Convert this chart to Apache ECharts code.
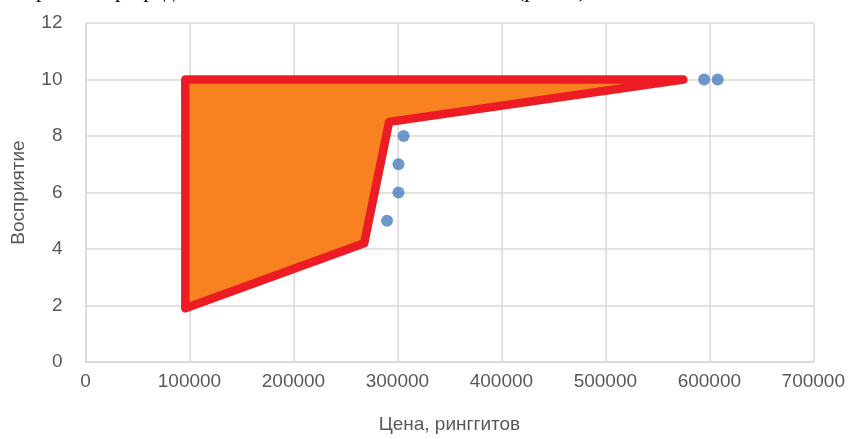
<!DOCTYPE html>
<html>
<head>
<meta charset="utf-8">
<script src="https://cdn.jsdelivr.net/npm/echarts@6/dist/echarts.min.js"></script>
<style>
html,body{margin:0;padding:0;background:#fff;}
#chart{width:848px;height:439px;}
</style>
</head>
<body>
<div id="chart"></div>
<script>
// Polygon (price, perception) vertices
var zonePrice = [96000, 575000, 292000, 268000, 96000];
var zonePerception = [10, 10, 8.5, 4.2, 1.9];
// Scatter points
var pointPrice = [290000, 301000, 301000, 306000, 595000, 608000];
var pointPerception = [5, 6, 7, 8, 10, 10];
// Axis ticks
var xTicks = [0, 100000, 200000, 300000, 400000, 500000, 600000, 700000];
var yTicks = [0, 2, 4, 6, 8, 10, 12];
var xName = 'Цена, ринггитов';
var yName = 'Восприятие';

var zoneData = zonePrice.map(function (p, i) { return [p, zonePerception[i]]; });
var pointData = pointPrice.map(function (p, i) { return [p, pointPerception[i]]; });

var chart = echarts.init(document.getElementById('chart'), null, {renderer: 'canvas'});
var labelStyle = {color: '#595959', fontSize: 19, fontFamily: 'Liberation Sans'};

chart.setOption({
  animation: false,
  backgroundColor: '#ffffff',
  grid: {left: 85.5, right: 32.5, top: 23, bottom: 77},
  graphic: [
    {type: 'text', left: 36, top: -20, style: {text: 'р', font: '22px "Liberation Serif"', fill: '#000'}},
    {type: 'text', left: 115, top: -20, style: {text: 'р пред', font: '22px "Liberation Serif"', fill: '#000'}},
    {type: 'text', left: 517, top: -20, style: {text: '(рис. 3)', font: '22px "Liberation Serif"', fill: '#000'}}
  ],
  xAxis: {
    type: 'value', min: xTicks[0], max: xTicks[xTicks.length - 1], interval: 100000,
    name: xName, nameLocation: 'middle', nameGap: 53,
    nameTextStyle: labelStyle,
    axisLine: {show: true, lineStyle: {color: '#D9D9D9', width: 1.5}},
    axisTick: {show: false},
    axisLabel: Object.assign({margin: 10, formatter: function (v) { return String(v); }}, labelStyle),
    splitLine: {show: true, lineStyle: {color: '#D9D9D9', width: 1.5}}
  },
  yAxis: {
    type: 'value', min: yTicks[0], max: yTicks[yTicks.length - 1], interval: 2,
    name: yName, nameLocation: 'middle', nameGap: 57,
    nameTextStyle: labelStyle,
    axisLine: {show: true, lineStyle: {color: '#D9D9D9', width: 1.5}},
    axisTick: {show: false},
    axisLabel: Object.assign({margin: 23}, labelStyle),
    splitLine: {show: true, lineStyle: {color: '#D9D9D9', width: 1.5}}
  },
  series: [
    {
      type: 'custom',
      data: zoneData,
      encode: {x: 0, y: 1},
      z: 2,
      renderItem: function (params, api) {
        if (params.dataIndex !== 0) return null;
        var pts = zoneData.map(function (d) { return api.coord(d); });
        return {
          type: 'polygon',
          shape: {points: pts},
          style: {fill: '#F7821F', stroke: '#ED1C24', lineWidth: 8.5, lineJoin: 'round'}
        };
      }
    },
    {
      type: 'scatter',
      data: pointData,
      symbol: 'circle',
      symbolSize: 12,
      z: 3,
      itemStyle: {color: '#4A7EBF'}
    }
  ]
});
</script>
</body>
</html>
